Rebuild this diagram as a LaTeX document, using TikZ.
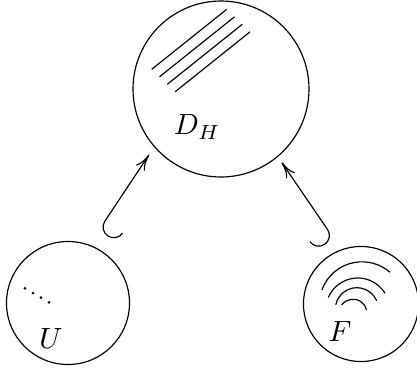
\documentclass[tikz,border=0pt]{standalone}
\usepackage{amsmath}
\usetikzlibrary{arrows.meta}

\begin{document}
\begin{tikzpicture}[x=0.3415pt, y=0.3415pt,
  ball/.style={circle, draw=black, inner sep=0pt},
  lbl/.style={inner sep=0pt},
  hookr/.style={{Hooks[right,length=3.8pt,width=15pt]}-{To[length=5.5pt,width=3.6pt]}},
  hookl/.style={{Hooks[left,length=3.8pt,width=15pt]}-{To[length=5.5pt,width=3.6pt]}}]
  \useasboundingbox (0,0) rectangle (417,371);
  \node [ball, minimum size=60.1pt] at (221,282) (dh) {};
  \node [ball, minimum size=42pt] at (68,68) (u) {};
  \node [ball, minimum size=39.3pt] at (361,67) (f) {};
  \node [lbl] at ([shift={(-24,-38)}]dh.center) (dhl) {$D_H$};
  \node [lbl] at ([shift={(-17,-35)}]u.center) (ul) {$U$};
  \node [lbl] at ([shift={(-21,-27)}]f.center) (fl) {$F$};
  % inside the circles
  \foreach \k in {0,...,3}
    \draw ([shift={({-69.3+7.8*\k},{19.7-7.5*\k})}]dh.center) -- ++(75,60);
  \foreach \k in {0,...,3}
    \fill ([shift={({-43+8*\k},{14.7-4.7*\k})}]u.center) circle (1.5);
  \foreach \cx/\cy/\r/\a/\b in {1/-0.5/42.7/160/49, -3.2/-6/32/157/31.5, -4.1/-5.3/21.6/168/23.5, -8/-9.2/14/144/13}
    \draw ([shift={({\cx+\r*cos(\a)},{\cy+\r*sin(\a)})}]f.center) arc[start angle=\a, end angle=\b, radius=\r];
  % maps
  \draw[hookl, shorten <=5.8pt, shorten >=3.1pt] (u.70) -- (dh.221.5);
  \draw[hookr, shorten <=4.4pt, shorten >=2.3pt] (f.110) -- (dh.310.3);
\end{tikzpicture}
\end{document}
